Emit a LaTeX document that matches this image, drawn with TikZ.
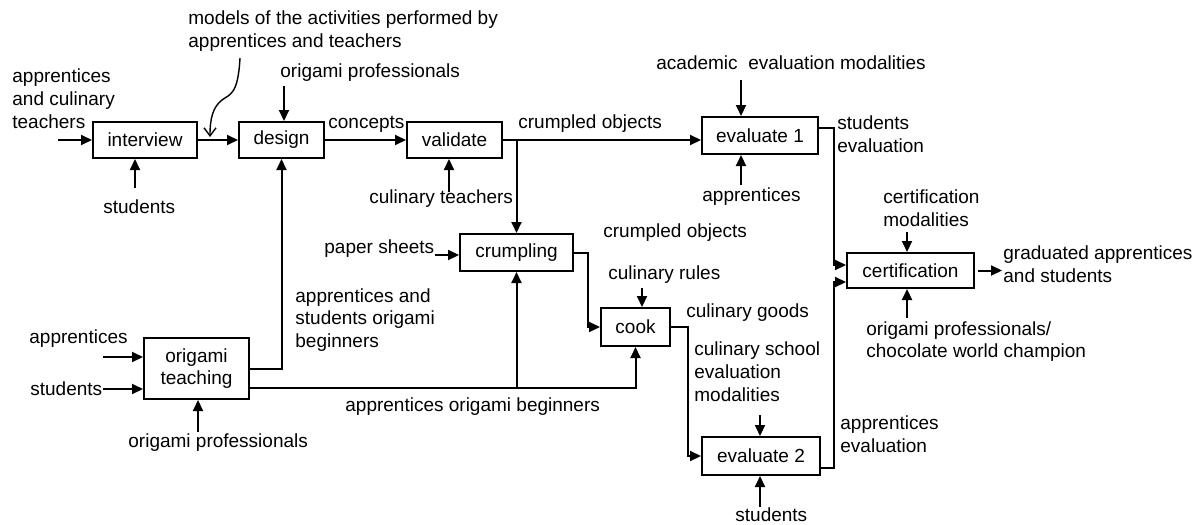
\documentclass[tikz,border=0pt]{standalone}
\usepackage{fontspec}
\setmainfont{Liberation Sans}
\usetikzlibrary{arrows.meta}

\begin{document}
\begin{tikzpicture}[x=0.5pt,y=-0.5pt, % <- picture in pixel units
   font=\fontsize{9.5}{11.4}\selectfont,
   act/.style={draw,line width=1pt,inner sep=0pt,align=center},
   lbl/.style={inner sep=0pt,align=left,anchor=west},
   flow/.style={line width=1pt,-{Triangle[length=5.5pt,width=5pt]}}]
   \useasboundingbox (0,0) rectangle (1197,524);
   % Activity boxes
   \node[act,minimum width=52pt,minimum height=18pt] (interview) at (145,140) {interview};
   \node[act,minimum width=42.5pt,minimum height=18pt] (design) at (281.5,140) {design};
   \node[act,minimum width=47.5pt,minimum height=18pt] (validate) at (454.5,140) {validate};
   \node[act,minimum width=58pt,minimum height=18.5pt] (evalA) at (760,135.5) {evaluate 1};
   \node[act,minimum width=63.5pt,minimum height=17.5pt] (certif) at (910.5,270.5) {certification};
   \node[act,minimum width=52.5pt,minimum height=30.5pt] (teach) at (196.5,368.5) {origami\\teaching};
   \node[act,minimum width=56.5pt,minimum height=18.5pt] (crump) at (516.5,252.5) {crumpling};
   \node[act,minimum width=34.5pt,minimum height=19pt] (cook) at (635.5,327) {cook};
   \node[act,minimum width=59pt,minimum height=19pt] (evalB) at (761,456) {evaluate 2};
   % Labels
   \node[lbl] (inInt) at (12,99) {apprentices\\and culinary\\teachers};
   \node[lbl] (models) at (188,31) {models of the activities performed by\\apprentices and teachers};
   \node[lbl] (prDes) at (280,73) {origami professionals};
   \node[lbl] (stInt) at (103,207) {students};
   \node[lbl] (concepts) at (328,124) {concepts};
   \node[lbl] (ctVal) at (369,199) {culinary teachers};
   \node[lbl] (objA) at (518,124) {crumpled objects};
   \node[lbl] (acad) at (656,63) {academic\ \ evaluation modalities};
   \node[lbl] (apEvA) at (702,197) {apprentices};
   \node[lbl] (stEvA) at (837,134) {students\\evaluation};
   \node[lbl] (modCert) at (883,208) {certification\\modalities};
   \node[lbl] (prCert) at (866,341.5) {origami professionals/\\chocolate world champion};
   \node[lbl] (grad) at (1003,264) {graduated apprentices\\and students};
   \node[lbl] (apTeach) at (29,339) {apprentices};
   \node[lbl] (stTeach) at (30,389) {students};
   \node[lbl] (prTeach) at (128,443) {origami professionals};
   \node[lbl] (begA) at (295,320) {apprentices and\\students origami\\beginners};
   \node[lbl] (begB) at (345,407) {apprentices origami beginners};
   \node[lbl] (paper) at (324,249) {paper sheets};
   \node[lbl] (objB) at (603,233) {crumpled objects};
   \node[lbl] (rules) at (608,275) {culinary rules};
   \node[lbl] (goods) at (686,313) {culinary goods};
   \node[lbl] (school) at (694,372) {culinary school\\evaluation\\modalities};
   \node[lbl] (apEvB) at (840,434) {apprentices\\evaluation};
   \node[lbl] (stEvB) at (735,515) {students};
   % Free ends of arrows
   \coordinate (inA) at (58,140);
   \coordinate (stA) at (135,188);
   \coordinate (mdA) at (240,58);
   \coordinate (mdB) at (210,137);
   \coordinate (prD) at (284,86);
   \coordinate (ctV) at (449,192);
   \coordinate (acA) at (741,80);
   \coordinate (apA) at (741,185);
   \coordinate (mC) at (907,232);
   \coordinate (pC) at (907,318);
   \coordinate (oC) at (1002,270.5);
   \coordinate (aT) at (103,357);
   \coordinate (pT) at (198,432);
   \coordinate (rC) at (642,288);
   \coordinate (sE) at (760,415);
   \coordinate (tE) at (760,507);
   \coordinate (lowT) at ([yshift=-9.75pt]teach.east);
   % Upper chain
   \draw[flow] (inA) -- (interview.west);
   \draw[flow] (stA) -- (stA |- interview.south);
   \draw[flow] (interview) -- (design);
   \draw[line width=0.7pt,-{Straight Barb[length=4pt,width=6pt]}] (mdA) .. controls (238,95) and (230,94) .. (222,100) .. controls (213,107) and (210,118) .. (mdB);
   \draw[flow] (prD) -- (prD |- design.north);
   \draw[flow] (design) -- (validate);
   \draw[flow] (ctV) -- (ctV |- validate.south);
   \draw[flow] (validate.east) -- (validate.east -| evalA.west);
   \draw[flow] (validate.east) -| (crump.north);
   \draw[flow] (acA) -- (acA |- evalA.north);
   \draw[flow] (apA) -- (apA |- evalA.south);
   \draw[flow] ([yshift=3.75pt]evalA.east) -- ++(15,0) |- ([yshift=2.75pt]certif.west);
   \draw[flow] (mC) -- (mC |- certif.north);
   \draw[flow] (pC) -- (pC |- certif.south);
   \draw[flow] ([xshift=1.5pt]certif.east) -- (oC);
   % Lower chain
   \draw[flow] (aT) -- (aT -| teach.west);
   \draw[flow] (stTeach.east) -- (stTeach.east -| teach.west);
   \draw[flow] (pT) -- (pT |- teach.south);
   \draw[flow] (teach.east) -| (design.south);
   \draw[flow] (lowT) -| (cook.south);
   \draw[flow] (lowT -| crump.south) -- (crump.south);
   \draw[flow] ([yshift=-3pt]paper.east) -- ([yshift=-3pt]paper.east -| crump.west);
   \draw[flow] (crump.east) -- ++(14,0) |- (cook.west);
   \draw[flow] (rC) -- (rC |- cook.north);
   \draw[flow] (cook.east) -- ++(17,0) |- (evalB.west);
   \draw[flow] (sE) -- (sE |- evalB.north);
   \draw[flow] (tE) -- (tE |- evalB.south);
   \draw[flow] ([yshift=-6pt]evalB.east) -- ++(13,0) |- ([yshift=-5.75pt]certif.west);
\end{tikzpicture}
\end{document}
